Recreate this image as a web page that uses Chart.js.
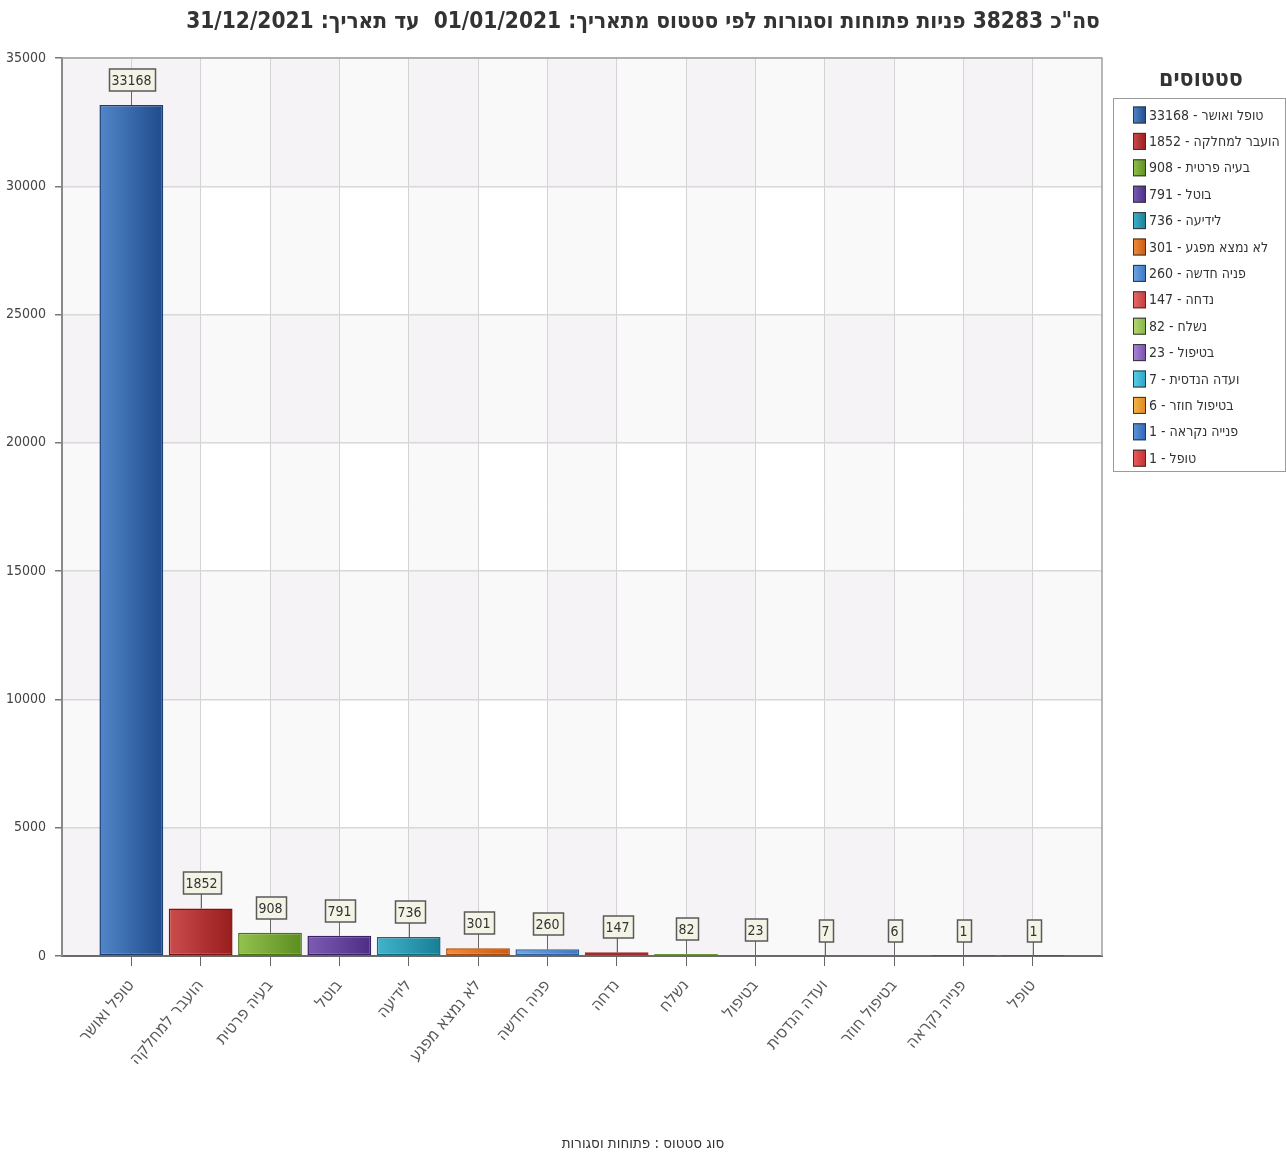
<!DOCTYPE html>
<html lang="he">
<head>
<meta charset="utf-8">
<title>פניות לפי סטטוס</title>
<script src="https://cdn.jsdelivr.net/npm/chart.js@4.4.1/dist/chart.umd.min.js"></script>
<style>
  html, body { margin: 0; padding: 0; background: #fff; }
</style>
</head>
<body>
<canvas id="grafica" width="1286" height="1156"></canvas>
<script>
// סטטוסים וכמויות פניות
const statuses = ['טופל ואושר', 'הועבר למחלקה', 'בעיה פרטית', 'בוטל', 'לידיעה', 'לא נמצא מפגע',
    'פניה חדשה', 'נדחה', 'נשלח', 'בטיפול', 'ועדה הנדסית', 'בטיפול חוזר', 'פנייה נקראה', 'טופל'];
const counts = [33168, 1852, 908, 791, 736, 301, 260, 147, 82, 23, 7, 6, 1, 1];

// צבעי עמודות (בהיר -> כהה) ומסגרת
const fillLight = ['#5186c8', '#cc4c4c', '#93c24e', '#7d5cb4', '#40b4cc', '#f28c3c', '#6fa6e4', '#ea6c6c',
    '#b8da76', '#ac88d6', '#5ccfea', '#f5b64c', '#5e94da', '#ee5e5e'];
const fillDark = ['#1f4b8c', '#981d1d', '#5c8d20', '#4c2d84', '#187e96', '#ca5a10', '#3a76c4', '#c43a3a',
    '#84b444', '#7850ae', '#28a4c6', '#de881a', '#2e66b6', '#c23030'];
const borderColors = ['#1a3d74', '#7a1414', '#4a7416', '#3a2068', '#126a80', '#a84a0a', '#2e60a4', '#a02c2c',
    '#6c9632', '#5e3c92', '#1e88a8', '#b86e10', '#24549a', '#9e2626'];

const yMax = 35000;
const yStep = 5000;
const dateFrom = '01/01/2021';
const dateTo = '31/12/2021';

const FONT = '"Liberation Sans Narrow", "DejaVu Sans Condensed", "Liberation Sans", sans-serif';
Chart.defaults.font.family = FONT;

const RLE = '\u202B', PDF = '\u202C';
const total = counts.reduce((a, b) => a + b, 0);

// רקע מפוספס + מסגרת לאזור הגרף
const rekaPlugin = {
    id: 'reka',
    beforeDraw(chart) {
        const { ctx, chartArea: a, scales: { x, y } } = chart;
        ctx.save();
        ctx.fillStyle = '#ffffff';
        ctx.fillRect(a.left, a.top, a.width, a.height);
        ctx.fillStyle = 'rgba(70, 50, 60, 0.028)';
        for (let v = 0; v < yMax; v += yStep) {
            if ((v / yStep) % 2 === 0) {
                const t = y.getPixelForValue(v + yStep), b = y.getPixelForValue(v);
                ctx.fillRect(a.left, t, a.width, b - t);
            }
        }
        for (let j = 0; j <= statuses.length; j++) {
            if (j === 0 || j % 2 === 1) {
                const l = x.getPixelForValue(j), r = x.getPixelForValue(j + 1);
                ctx.fillRect(l, a.top, r - l, a.height);
            }
        }
        ctx.restore();
    },
    beforeDatasetsDraw(chart) {
        const { ctx, chartArea: a } = chart;
        ctx.save();
        ctx.strokeStyle = '#a0a0a0';
        ctx.lineWidth = 1.5;
        ctx.beginPath();
        ctx.moveTo(a.left, a.top);
        ctx.lineTo(a.right, a.top);
        ctx.lineTo(a.right, a.bottom);
        ctx.stroke();
        ctx.restore();
    }
};

// תוויות ערך מעל העמודות
const tavitPlugin = {
    id: 'tavit',
    afterDatasetsDraw(chart) {
        const ctx = chart.ctx;
        const meta = chart.getDatasetMeta(0);
        ctx.save();
        ctx.font = `14px ${FONT}`;
        ctx.textAlign = 'center';
        ctx.textBaseline = 'middle';
        meta.data.forEach((bar, i) => {
            const txt = String(counts[i]);
            const w = Math.round(ctx.measureText(txt).width) + 6;
            const h = 22;
            const bottom = Math.round(bar.y) - 14;
            const cx = Math.round(bar.x) + 0.5;
            ctx.strokeStyle = '#666';
            ctx.lineWidth = 1;
            ctx.beginPath();
            ctx.moveTo(cx, bottom);
            ctx.lineTo(cx, bar.y);
            ctx.stroke();
            const left = Math.round(cx - w / 2) + 0.5;
            ctx.fillStyle = '#f3f3e6';
            ctx.fillRect(left, bottom - h, w, h);
            ctx.strokeStyle = '#5a5a5a';
            ctx.lineWidth = 1.5;
            ctx.strokeRect(left, bottom - h, w, h);
            ctx.fillStyle = '#333';
            ctx.fillText(txt, cx, bottom - h / 2 + 1);
        });
        ctx.restore();
    }
};

// מקרא סטטוסים בצד ימין
const mikraPlugin = {
    id: 'mikra',
    afterDraw(chart) {
        const ctx = chart.ctx;
        const left = chart.chartArea.right + 11;
        const top = 98;
        const rowH = 26.4;
        ctx.save();
        ctx.font = `bold 23px ${FONT}`;
        ctx.fillStyle = '#333';
        ctx.textAlign = 'center';
        ctx.textBaseline = 'middle';
        ctx.fillText('סטטוסים', left + 88, 80);

        const boxH = Math.round(rowH * statuses.length + 3);
        ctx.fillStyle = '#ffffff';
        ctx.fillRect(left + 0.5, top + 0.5, 172, boxH);
        ctx.strokeStyle = '#9a9a9a';
        ctx.lineWidth = 1;
        ctx.strokeRect(left + 0.5, top + 0.5, 172, boxH);

        ctx.font = `14px ${FONT}`;
        ctx.textAlign = 'left';
        statuses.forEach((s, i) => {
            const cy = top + 17 + i * rowH;
            const bx = left + 20;
            const g = ctx.createLinearGradient(bx, 0, bx + 13, 0);
            g.addColorStop(0, fillLight[i]);
            g.addColorStop(1, fillDark[i]);
            ctx.fillStyle = g;
            ctx.fillRect(bx, cy - 8.5, 13, 17);
            ctx.strokeStyle = '#333';
            ctx.lineWidth = 1;
            ctx.strokeRect(bx + 0.5, cy - 8, 12, 16);
            ctx.fillStyle = '#333';
            // הכמות משמאל, שם הסטטוס אחריה
            const num = `${counts[i]} - `;
            ctx.fillText(num, bx + 16, cy + 1);
            ctx.fillText(s, bx + 16 + ctx.measureText(num).width, cy + 1);
        });
        ctx.restore();
    }
};

const barGradient = (c) => {
    const i = c.dataIndex;
    const chart = c.chart;
    const xs = chart.scales.x;
    if (!chart.chartArea || !xs) return fillDark[i];
    const cx = xs.getPixelForValue(i + 1);
    const half = Math.abs(xs.getPixelForValue(1) - xs.getPixelForValue(0)) * 0.46;
    const g = chart.ctx.createLinearGradient(cx - half, 0, cx + half, 0);
    g.addColorStop(0, fillLight[i]);
    g.addColorStop(1, fillDark[i]);
    return g;
};

const inner = (c) => c.tick && c.tick.value > 0 && c.tick.value <= statuses.length;

new Chart(document.getElementById('grafica'), {
    type: 'bar',
    data: {
        datasets: [{
            label: 'פניות',
            data: counts.map((v, i) => ({ x: i + 1, y: v })),
            backgroundColor: barGradient,
            borderColor: borderColors,
            borderWidth: 1.5,
            borderSkipped: false,
            categoryPercentage: 1,
            barPercentage: 0.92
        }]
    },
    options: {
        responsive: false,
        animation: false,
        layout: { padding: 0 },
        plugins: {
            legend: { display: false },
            tooltip: { enabled: false },
            title: {
                display: true,
                text: RLE + `סה"כ ${total} פניות פתוחות וסגורות לפי סטטוס מתאריך: ${dateFrom}  עד תאריך: ${dateTo}` + PDF,
                color: '#333',
                font: { size: 22.5, weight: 'bold' },
                padding: { top: 9, bottom: 22 }
            },
            subtitle: {
                display: true,
                position: 'bottom',
                text: 'סוג סטטוס : פתוחות וסגורות',
                color: '#333',
                font: { size: 15 },
                padding: { top: 8, bottom: 3 }
            }
        },
        scales: {
            x: {
                type: 'linear',
                min: 0,
                max: statuses.length + 1,
                offset: false,
                afterFit: (s) => { s.height = 171; },
                ticks: {
                    stepSize: 1,
                    autoSkip: false,
                    minRotation: 50,
                    maxRotation: 50,
                    padding: 10,
                    color: '#5a5a5a',
                    font: { size: 17 },
                    callback: (v) => statuses[v - 1] || ''
                },
                grid: {
                    offset: false,
                    color: (c) => inner(c) ? '#d3d3d3' : 'rgba(0,0,0,0)',
                    tickColor: (c) => inner(c) ? '#666' : 'rgba(0,0,0,0)',
                    tickLength: 10,
                    lineWidth: 1
                },
                border: { color: '#6a6a6a', width: 2 }
            },
            y: {
                min: 0,
                max: yMax,
                afterFit: (s) => { s.width = 62; },
                ticks: {
                    stepSize: yStep,
                    color: '#444',
                    padding: 9,
                    font: { size: 14 },
                    callback: (v) => String(v)
                },
                grid: { color: '#d8d8d8', lineWidth: 1.5, tickLength: 7, tickColor: '#777' },
                border: { color: '#8a8a8a', width: 2 }
            },
            legendSpace: {
                type: 'linear',
                position: 'right',
                display: true,
                afterFit: (s) => { s.width = 184; },
                ticks: { display: false },
                grid: { display: false },
                border: { display: false }
            }
        }
    },
    plugins: [rekaPlugin, tavitPlugin, mikraPlugin]
});
</script>
</body>
</html>
